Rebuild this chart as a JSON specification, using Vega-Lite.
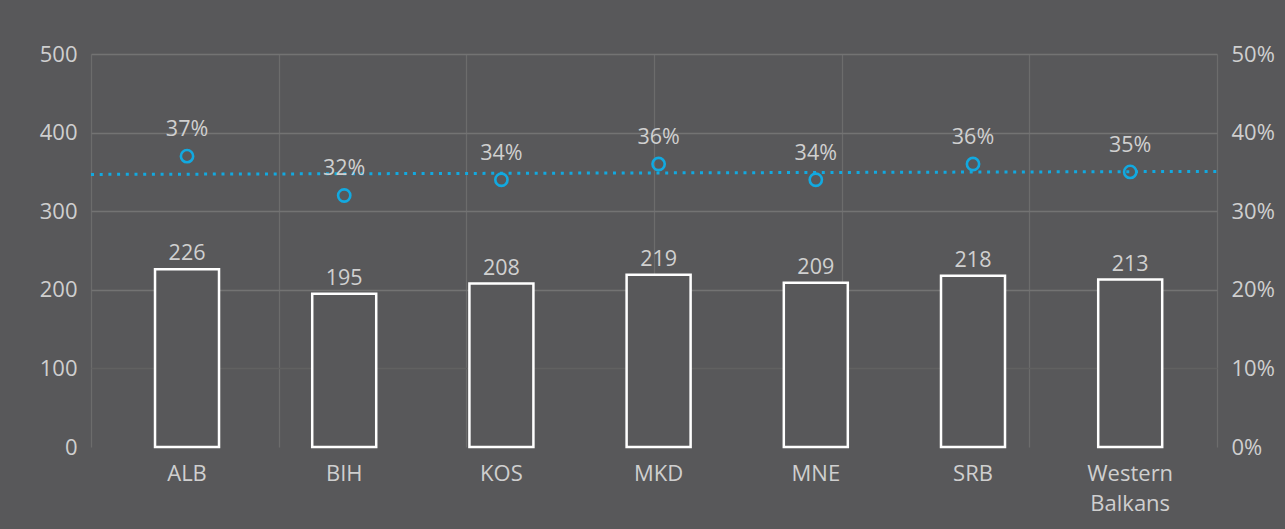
{
  "$schema": "https://vega.github.io/schema/vega-lite/v6.json",
  "width": 1126,
  "height": 393,
  "autosize": {"type": "none"},
  "padding": {"left": 91, "top": 54, "right": 68, "bottom": 82},
  "background": "#58585a",
  "config": {
    "view": {"stroke": null},
    "font": "Open Sans",
    "axis": {
      "labelFont": "Open Sans",
      "labelFontSize": 22,
      "labelColor": "#cfcfcf",
      "domain": false,
      "ticks": false,
      "tickSize": 0,
      "title": null
    }
  },
  "datasets": {
    "main": [
      {"country": "ALB", "count": 226, "pct": 0.37},
      {"country": "BIH", "count": 195, "pct": 0.32},
      {"country": "KOS", "count": 208, "pct": 0.34},
      {"country": "MKD", "count": 219, "pct": 0.36},
      {"country": "MNE", "count": 209, "pct": 0.34},
      {"country": "SRB", "count": 218, "pct": 0.36},
      {"country": "Western Balkans", "count": 213, "pct": 0.35}
    ],
    "trend": [
      {"pos": 0, "pct": 0.3468},
      {"pos": 6, "pct": 0.3506}
    ]
  },
  "layer": [
    {
      "data": {"name": "trend"},
      "mark": {"type": "line", "color": "#12a9e0", "strokeWidth": 3, "strokeDash": [3, 5.7]},
      "encoding": {
        "x": {
          "field": "pos", "type": "quantitative",
          "scale": {"domain": [0, 6], "nice": false, "zero": false},
          "axis": {"orient": "top", "values": [0, 1, 2, 3, 4, 5, 6], "labels": false, "grid": true, "gridColor": "#6c6c6c", "gridWidth": 1.3}
        },
        "y": {
          "field": "pct", "type": "quantitative",
          "scale": {"domain": [0, 0.5], "nice": false},
          "axis": null
        }
      }
    },
    {
      "data": {"name": "main"},
      "encoding": {
        "x": {
          "field": "country", "type": "nominal",
          "scale": {"type": "band", "domain": ["ALB", "BIH", "KOS", "MKD", "MNE", "SRB", "Western Balkans"], "paddingInner": 0, "paddingOuter": 0.0815, "align": 0.68, "round": false},
          "axis": {"orient": "bottom", "labelExpr": "split(datum.label, ' ')", "labelAngle": 0, "labelPadding": 16, "labelLineHeight": 30, "grid": false}
        },
        "y": {
          "field": "count", "type": "quantitative",
          "scale": {"domain": [0, 500], "nice": false},
          "axis": {
            "orient": "left", "values": [0, 100, 200, 300, 400, 500], "grid": true, "gridWidth": 1.3,
            "gridColor": {"condition": [{"test": "datum.value == 0", "value": "rgba(0,0,0,0)"}, {"test": "datum.value == 100", "value": "#616161"}], "value": "#737373"},
            "labelPadding": 14
          }
        }
      },
      "layer": [
        {"mark": {"type": "bar", "width": 64, "fill": "#58585a", "stroke": "#ffffff", "strokeWidth": 2.5}},
        {
          "mark": {"type": "text", "baseline": "alphabetic", "dy": -9, "fontSize": 21.5, "color": "#d0d0d0"},
          "encoding": {"text": {"field": "count", "type": "quantitative"}}
        }
      ]
    },
    {
      "data": {"name": "main"},
      "encoding": {
        "x": {
          "field": "country", "type": "nominal",
          "scale": {"type": "band", "domain": ["ALB", "BIH", "KOS", "MKD", "MNE", "SRB", "Western Balkans"], "paddingInner": 0, "paddingOuter": 0.0815, "align": 0.68, "round": false},
          "axis": null
        },
        "y": {
          "field": "pct", "type": "quantitative",
          "scale": {"domain": [0, 0.5], "nice": false},
          "axis": {"orient": "right", "values": [0, 0.1, 0.2, 0.3, 0.4, 0.5], "format": ".0%", "grid": false, "labelPadding": 14}
        }
      },
      "layer": [
        {"mark": {"type": "point", "shape": "circle", "filled": false, "size": 150, "strokeWidth": 2.6, "color": "#12a9e0", "opacity": 1}},
        {
          "mark": {"type": "text", "baseline": "alphabetic", "dy": -20, "fontSize": 21.5, "color": "#d0d0d0"},
          "encoding": {"text": {"field": "pct", "type": "quantitative", "format": ".0%"}}
        }
      ]
    }
  ],
  "resolve": {
    "scale": {"x": "independent", "y": "independent"},
    "axis": {"x": "independent", "y": "independent"}
  }
}
